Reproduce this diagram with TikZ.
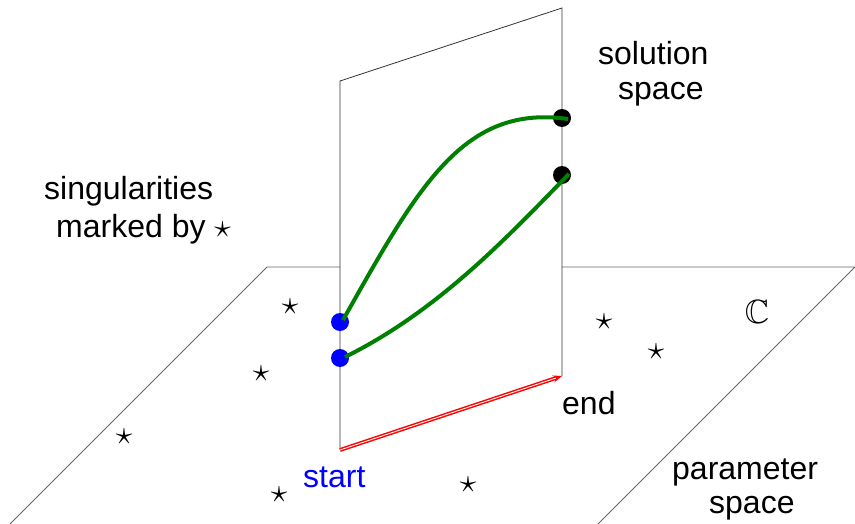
\documentclass[tikz,border=0pt]{standalone}
\usepackage{amssymb}
\usepackage{fontspec}
\setmainfont{Liberation Sans}
\usetikzlibrary{arrows.meta}
\definecolor{pathgreen}{RGB}{0,128,0}
\newcommand{\bigstarmark}{\scalebox{1.35}{$\star$}}
\tikzset{
  planeline/.style={draw=black!80, line width=0.8pt},
  floorline/.style={draw=black!60, line width=0.8pt},
  bluedot/.style={circle, fill=blue, inner sep=0pt, minimum size=18pt},
  blackdot/.style={circle, fill=black, inner sep=0pt, minimum size=18pt},
  pathcurve/.style={draw=pathgreen, line width=4pt},
  redarrow/.style={draw=red, double=white, double distance=0.8pt, line width=1.5pt, -{Stealth[length=9pt,width=7pt]}},
  lbl/.style={inner sep=0pt, anchor=base west, font=\fontsize{32}{36}\selectfont},
  starmark/.style={inner sep=0pt, font=\fontsize{24}{24}\selectfont}
}
\begin{document}
\begin{tikzpicture}[x=1pt,y=-1pt]
\useasboundingbox (0,0) rectangle (855,524);
% parameter plane (floor)
\coordinate (fa) at (267,267);
\coordinate (fb) at (340,267);
\coordinate (fc) at (562,267);
\coordinate (fd) at (855,267);
\coordinate (fe) at (10,524);
\coordinate (ff) at (598,524);
\draw[floorline] (fe) -- (fa) -- (fb);
\draw[floorline] (fc) -- (fd) -- (ff);
% solution plane (vertical)
\coordinate (va) at (340,81);
\coordinate (vb) at (562,8);
\coordinate (vc) at (562,376);
\coordinate (vd) at (340,450);
\draw[planeline] (vd) -- (va) -- (vb) -- (vc);
% red path in parameter space
\draw[redarrow] (vd) -- (vc);
% dots
\node[bluedot] (s1) at (340,322) {};
\node[bluedot] (s2) at (340,358) {};
\node[blackdot] (e1) at (562,118) {};
\node[blackdot] (e2) at (562,175) {};
% solution paths
\draw[pathcurve] (343,320) .. controls (418,187) and (463,104) .. (568,119);
\draw[pathcurve] (345,357) .. controls (440,310) and (509,235) .. (569,174);
% stars
\node[starmark] (st1) at (290,307) {\bigstarmark};
\node[starmark] (st2) at (261,374) {\bigstarmark};
\node[starmark] (st3) at (124,437) {\bigstarmark};
\node[starmark] (st4) at (279,495) {\bigstarmark};
\node[starmark] (st5) at (468,485) {\bigstarmark};
\node[starmark] (st6) at (604,322) {\bigstarmark};
\node[starmark] (st7) at (656,352) {\bigstarmark};
% C
\node[inner sep=0pt, font=\fontsize{24}{24}\selectfont] (cc) at (757,312) {\scalebox{1.4}{$\mathbb{C}$}};
% labels
\node[lbl] (sol1) at (598,65) {solution};
\node[lbl] (sol2) at (618,100) {space};
\node[lbl] (sing1) at (44,200) {singularities};
\node[lbl] (sing2) at (56,238) {marked by {\fontsize{24}{24}\selectfont\bigstarmark}};
\node[lbl] (par1) at (672,479) {parameter};
\node[lbl] (par2) at (709,513) {space};
\node[lbl, text=blue] (start) at (303,487) {start};
\node[lbl] (endl) at (562,414) {end};
\end{tikzpicture}
\end{document}
